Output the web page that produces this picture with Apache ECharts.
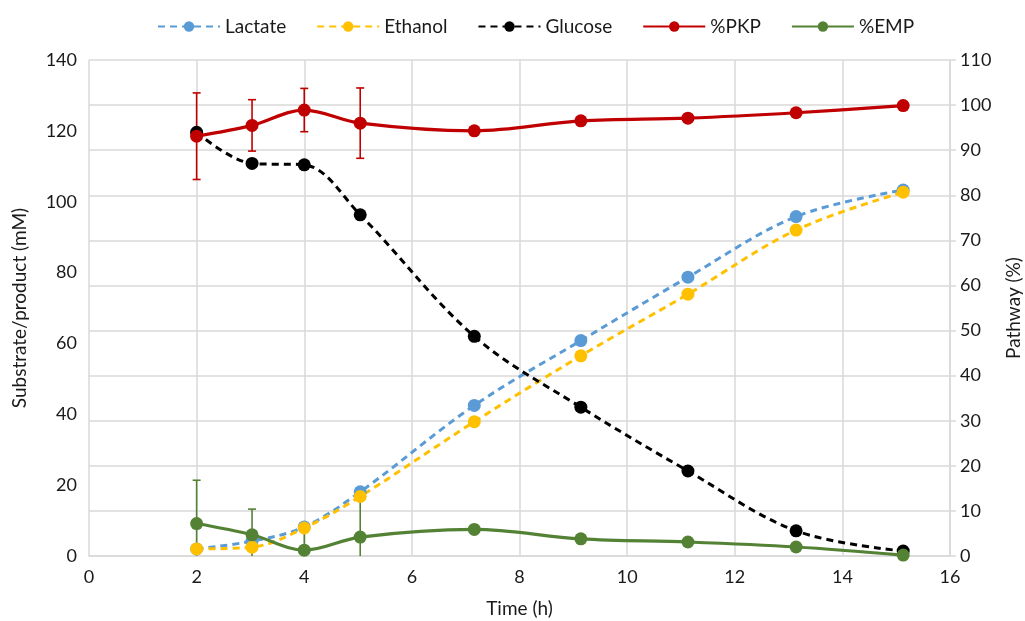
<!DOCTYPE html>
<html>
<head>
<meta charset="utf-8">
<script src="https://cdn.jsdelivr.net/npm/echarts@6/dist/echarts.min.js"></script>
<style>
  html, body { margin: 0; padding: 0; background: #fff; }
  #chart { width: 1025px; height: 621px; }
</style>
</head>
<body>
<div id="chart"></div>
<script>
// sampling times (h)
const time = [2, 3.03, 4, 5.04, 7.16, 9.14, 11.13, 13.14, 15.13];

// substrate / products (mM), left axis
const lactate = [2.0, 4.2, 8.2, 18.1, 42.5, 60.8, 78.7, 95.8, 103.3];
const ethanol = [2.0, 2.5, 7.9, 16.8, 37.9, 56.5, 73.9, 92.0, 102.7];
const glucose = [119.6, 110.8, 110.4, 96.3, 62.0, 42.0, 24.0, 7.1, 1.4];

// pathway split (%), right axis
const pkp = [93.1, 95.5, 98.9, 96.0, 94.3, 96.5, 97.1, 98.3, 99.9];
const emp = [7.2, 4.7, 1.3, 4.2, 5.9, 3.8, 3.1, 2.0, 0.2];

// standard deviations, only the first four points have them
const pkpErr = [9.6, 5.7, 4.8, 7.8];
const empErr = [9.6, 5.7, 4.8, 8.2];

const FONT = 'Lato, "Noto Sans", sans-serif';
const GRID_COLOR = '#d9d9d9';
const TEXT_COLOR = '#1a1a1a';

const pairs = (ys) => time.map((t, i) => [t, ys[i]]);
const errData = (ys, errs) => errs.map((e, i) => [time[i], ys[i], e]);

const lineSeries = (name, ys, color, dashed, axis) => ({
  name: name,
  type: 'line',
  yAxisIndex: axis,
  data: pairs(ys),
  smooth: 0.35,
  symbol: 'circle',
  symbolSize: 13,
  itemStyle: { color: color },
  lineStyle: { color: color, width: dashed ? 3 : 3.2, type: dashed ? [7, 5] : 'solid' },
  emphasis: { disabled: true }
});

const errorBars = (ys, errs, color) => ({
  type: 'custom',
  yAxisIndex: 1,
  data: errData(ys, errs),
  clip: true,
  silent: true,
  z: 3,
  renderItem: (params, api) => {
    const x = api.value(0);
    const y = api.value(1);
    const e = api.value(2);
    const top = api.coord([x, y + e]);
    const bot = api.coord([x, y - e]);
    const cap = 4;
    const style = { stroke: color, lineWidth: 1.6 };
    return {
      type: 'group',
      children: [
        { type: 'line', shape: { x1: top[0], y1: top[1], x2: bot[0], y2: bot[1] }, style: style },
        { type: 'line', shape: { x1: top[0] - cap, y1: top[1], x2: top[0] + cap, y2: top[1] }, style: style },
        { type: 'line', shape: { x1: bot[0] - cap, y1: bot[1], x2: bot[0] + cap, y2: bot[1] }, style: style }
      ]
    };
  }
});

const chart = echarts.init(document.getElementById('chart'));

const option = {
  animation: false,
  textStyle: { fontFamily: FONT },
  legend: {
    top: 12,
    left: 152,
    itemWidth: 62,
    itemHeight: 13,
    itemGap: 30,
    textStyle: { fontSize: 19, color: TEXT_COLOR, fontFamily: FONT },
    data: ['Lactate', 'Ethanol', 'Glucose', '%PKP', '%EMP']
  },
  grid: { left: 89, right: 75, top: 60, bottom: 65, containLabel: false, outerBoundsMode: 'none' },
  xAxis: {
    type: 'value',
    min: 0,
    max: 16,
    interval: 2,
    name: 'Time (h)',
    nameLocation: 'middle',
    nameGap: 43,
    nameTextStyle: { fontSize: 19, color: TEXT_COLOR },
    axisLine: { show: true, lineStyle: { color: GRID_COLOR, width: 1.5 } },
    axisTick: { show: false },
    axisLabel: { fontSize: 18, color: TEXT_COLOR, margin: 12 },
    splitLine: { show: true, lineStyle: { color: GRID_COLOR, width: 1.5 } }
  },
  yAxis: [
    {
      type: 'value',
      min: 0,
      max: 140,
      interval: 20,
      name: 'Substrate/product (mM)',
      nameLocation: 'middle',
      nameGap: 60,
      nameTextStyle: { fontSize: 19, color: TEXT_COLOR },
      axisLine: { show: false },
      axisTick: { show: false },
      axisLabel: { fontSize: 18, color: TEXT_COLOR, margin: 12 },
      splitLine: { show: false }
    },
    {
      type: 'value',
      min: 0,
      max: 110,
      interval: 10,
      name: 'Pathway (%)',
      nameLocation: 'middle',
      nameGap: 54,
      nameTextStyle: { fontSize: 19, color: TEXT_COLOR },
      axisLine: { show: true, lineStyle: { color: GRID_COLOR, width: 1.5 } },
      axisTick: { show: true, length: 6, lineStyle: { color: GRID_COLOR, width: 1.5 } },
      axisLabel: { fontSize: 18, color: TEXT_COLOR, margin: 10 },
      splitLine: { show: true, lineStyle: { color: GRID_COLOR, width: 1.5 } }
    }
  ],
  series: [
    lineSeries('Lactate', lactate, '#5b9bd5', true, 0),
    lineSeries('Ethanol', ethanol, '#ffc000', true, 0),
    lineSeries('Glucose', glucose, '#000000', true, 0),
    errorBars(pkp, pkpErr, '#c00000'),
    lineSeries('%PKP', pkp, '#c00000', false, 1),
    errorBars(emp, empErr, '#548235'),
    lineSeries('%EMP', emp, '#548235', false, 1)
  ]
};

chart.setOption(option);
</script>
</body>
</html>
